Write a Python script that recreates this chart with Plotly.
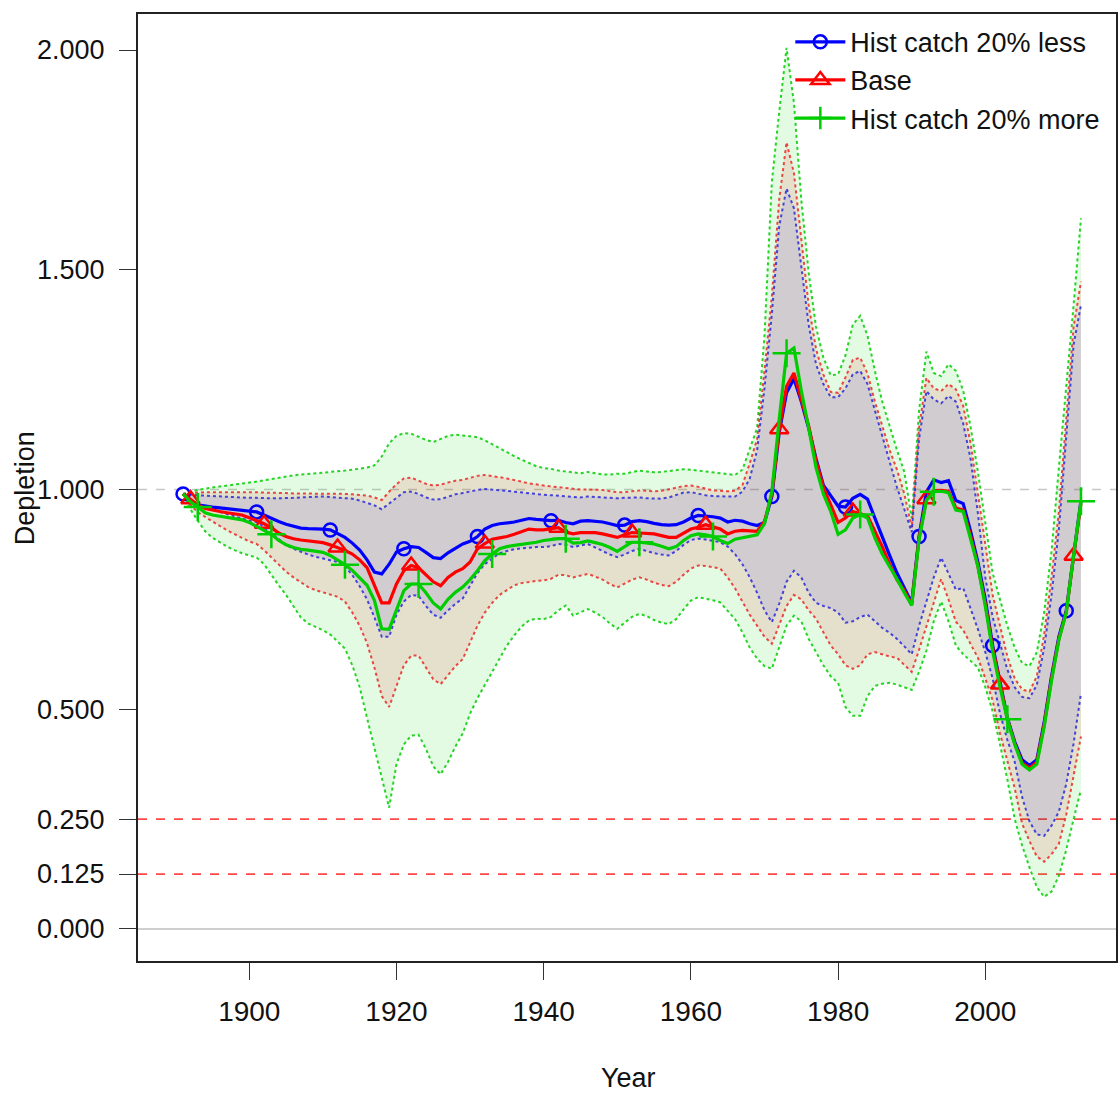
import plotly.graph_objects as go

# ---------------- data ----------------
years = list(range(1891, 2014))

less_mid = [
    0.990, 0.975, 0.965, 0.962, 0.960, 0.958, 0.956, 0.955, 0.953, 0.951,
    0.949, 0.942, 0.934, 0.927, 0.921, 0.916, 0.912, 0.911, 0.911, 0.910,
    0.908, 0.900, 0.891, 0.878, 0.862, 0.840, 0.812, 0.808, 0.830, 0.858,
    0.865, 0.870, 0.868, 0.857, 0.845, 0.843, 0.856, 0.866, 0.876, 0.882,
    0.893, 0.910, 0.918, 0.922, 0.924, 0.926, 0.930, 0.934, 0.932, 0.930,
    0.929, 0.930, 0.925, 0.922, 0.928, 0.929, 0.928, 0.926, 0.922, 0.918,
    0.919, 0.927, 0.929, 0.927, 0.923, 0.920, 0.919, 0.920, 0.926, 0.935,
    0.941, 0.940, 0.938, 0.935, 0.926, 0.930, 0.928, 0.922, 0.918, 0.925,
    0.984, 1.130, 1.220, 1.252, 1.200, 1.140, 1.070, 1.010, 0.985, 0.962,
    0.960, 0.980, 0.989, 0.978, 0.935, 0.890, 0.850, 0.810, 0.775, 0.742,
    0.893, 0.995, 1.022, 1.016, 1.020, 0.975, 0.968, 0.905, 0.834, 0.750,
    0.645, 0.560, 0.480, 0.426, 0.385, 0.372, 0.385, 0.470, 0.575, 0.665,
    0.724, 0.850, 0.975]

base_mid = [
    0.990, 0.978, 0.965, 0.957, 0.953, 0.950, 0.947, 0.945, 0.942, 0.936,
    0.929, 0.922, 0.913, 0.901, 0.893, 0.888, 0.885, 0.883, 0.881, 0.879,
    0.874, 0.868, 0.861, 0.853, 0.840, 0.822, 0.780, 0.742, 0.742, 0.785,
    0.815, 0.827, 0.822, 0.805, 0.790, 0.781, 0.800, 0.812, 0.820, 0.835,
    0.865, 0.877, 0.887, 0.890, 0.893, 0.898, 0.904, 0.910, 0.908, 0.908,
    0.911, 0.913, 0.903, 0.899, 0.902, 0.902, 0.902, 0.899, 0.895, 0.891,
    0.897, 0.902, 0.901, 0.900, 0.899, 0.895, 0.891, 0.891, 0.900, 0.910,
    0.914, 0.920, 0.915, 0.910, 0.899, 0.905, 0.907, 0.906, 0.905, 0.927,
    0.990, 1.137, 1.235, 1.265, 1.205, 1.145, 1.065, 1.005, 0.965, 0.925,
    0.935, 0.950, 0.945, 0.940, 0.905, 0.870, 0.830, 0.795, 0.770, 0.738,
    0.890, 0.978, 0.997, 0.998, 0.996, 0.958, 0.953, 0.895, 0.825, 0.740,
    0.640, 0.556, 0.478, 0.422, 0.378, 0.366, 0.380, 0.465, 0.570, 0.660,
    0.720, 0.849, 0.968]

more_mid = [
    0.990, 0.972, 0.960, 0.947, 0.942, 0.939, 0.936, 0.934, 0.931, 0.925,
    0.916, 0.906, 0.898, 0.884, 0.874, 0.868, 0.864, 0.862, 0.860, 0.857,
    0.850, 0.840, 0.829, 0.816, 0.800, 0.782, 0.748, 0.683, 0.682, 0.725,
    0.770, 0.785, 0.785, 0.765, 0.742, 0.728, 0.750, 0.766, 0.778, 0.795,
    0.815, 0.838, 0.853, 0.865, 0.870, 0.873, 0.875, 0.877, 0.880, 0.884,
    0.886, 0.888, 0.888, 0.878, 0.879, 0.883, 0.879, 0.875, 0.868, 0.859,
    0.870, 0.880, 0.880, 0.878, 0.876, 0.871, 0.865, 0.870, 0.884, 0.895,
    0.899, 0.897, 0.893, 0.884, 0.877, 0.887, 0.890, 0.893, 0.897, 0.922,
    0.995, 1.160, 1.310, 1.322, 1.225, 1.140, 1.050, 0.990, 0.950, 0.898,
    0.908, 0.935, 0.943, 0.935, 0.890, 0.853, 0.825, 0.796, 0.765, 0.736,
    0.885, 0.975, 0.995, 0.996, 0.993, 0.953, 0.950, 0.890, 0.825, 0.735,
    0.632, 0.550, 0.477, 0.420, 0.375, 0.362, 0.375, 0.460, 0.565, 0.658,
    0.720, 0.850, 0.973]

less_hi = [
    0.990, 0.988, 0.987, 0.986, 0.985, 0.984, 0.983, 0.982, 0.982, 0.981,
    0.981, 0.980, 0.980, 0.980, 0.980, 0.981, 0.982, 0.983, 0.984, 0.984,
    0.983, 0.982, 0.981, 0.979, 0.975, 0.970, 0.964, 0.955, 0.968, 0.983,
    0.994, 0.995, 0.990, 0.982, 0.977, 0.978, 0.984, 0.989, 0.992, 0.996,
    0.999, 1.001, 1.000, 0.998, 0.997, 0.995, 0.993, 0.991, 0.990, 0.988,
    0.987, 0.986, 0.985, 0.983, 0.982, 0.984, 0.983, 0.982, 0.980, 0.980,
    0.981, 0.982, 0.982, 0.980, 0.979, 0.979, 0.982, 0.988, 0.993, 0.994,
    0.990, 0.987, 0.985, 0.984, 0.984, 0.984, 0.995, 1.025, 1.090, 1.230,
    1.400, 1.600, 1.685, 1.640, 1.510, 1.375, 1.285, 1.240, 1.210, 1.210,
    1.230, 1.262, 1.270, 1.240, 1.180, 1.120, 1.060, 1.005, 0.955, 0.903,
    1.115, 1.224, 1.205, 1.196, 1.213, 1.200, 1.150, 1.070, 0.945, 0.800,
    0.710, 0.650, 0.590, 0.550, 0.528, 0.525, 0.555, 0.640, 0.760, 0.910,
    1.130, 1.330, 1.420]

less_lo = [
    0.990, 0.973, 0.965, 0.959, 0.954, 0.949, 0.944, 0.939, 0.934, 0.929,
    0.926, 0.915, 0.900, 0.886, 0.874, 0.865, 0.858, 0.852, 0.847, 0.843,
    0.838, 0.835, 0.825, 0.805, 0.780, 0.750, 0.709, 0.665, 0.665, 0.715,
    0.745, 0.760, 0.758, 0.735, 0.715, 0.708, 0.725, 0.740, 0.752, 0.780,
    0.810, 0.830, 0.843, 0.855, 0.860, 0.864, 0.866, 0.868, 0.869, 0.869,
    0.871, 0.876, 0.874, 0.869, 0.872, 0.876, 0.868, 0.860, 0.852, 0.846,
    0.852, 0.860, 0.865, 0.860, 0.855, 0.852, 0.850, 0.860, 0.874, 0.885,
    0.888, 0.886, 0.883, 0.880, 0.870, 0.853, 0.830, 0.800, 0.765, 0.725,
    0.698, 0.740, 0.790, 0.815, 0.800, 0.765, 0.742, 0.735, 0.730, 0.720,
    0.697, 0.700, 0.710, 0.715, 0.700, 0.685, 0.674, 0.660, 0.643, 0.625,
    0.690, 0.747, 0.800, 0.845, 0.810, 0.772, 0.776, 0.730, 0.682, 0.630,
    0.570, 0.490, 0.430, 0.380, 0.300, 0.245, 0.215, 0.212, 0.235, 0.267,
    0.330, 0.422, 0.536]

base_hi = [
    0.990, 0.992, 0.993, 0.994, 0.994, 0.995, 0.995, 0.995, 0.995, 0.995,
    0.994, 0.993, 0.993, 0.992, 0.992, 0.991, 0.991, 0.990, 0.990, 0.990,
    0.990, 0.990, 0.990, 0.989, 0.988, 0.986, 0.982, 0.976, 0.995, 1.012,
    1.025, 1.027, 1.020, 1.013, 1.009, 1.011, 1.016, 1.020, 1.022, 1.027,
    1.031, 1.033, 1.031, 1.028, 1.025, 1.022, 1.018, 1.014, 1.011, 1.009,
    1.007, 1.005, 1.003, 1.001, 1.000, 1.000, 1.000, 0.999, 0.996, 0.994,
    0.994, 0.996, 0.998, 0.997, 0.996, 0.997, 1.000, 1.004, 1.008, 1.009,
    1.006, 1.002, 0.998, 0.997, 0.996, 0.997, 1.010, 1.060, 1.115, 1.270,
    1.440, 1.660, 1.790, 1.720, 1.570, 1.420, 1.320, 1.262, 1.222, 1.220,
    1.255, 1.295, 1.300, 1.264, 1.200, 1.145, 1.090, 1.045, 0.990, 0.913,
    1.140, 1.254, 1.230, 1.224, 1.240, 1.228, 1.190, 1.105, 0.990, 0.870,
    0.760, 0.690, 0.620, 0.570, 0.545, 0.540, 0.575, 0.670, 0.800, 0.950,
    1.160, 1.370, 1.473]

base_lo = [
    0.990, 0.965, 0.948, 0.937, 0.927, 0.917, 0.907, 0.898, 0.890, 0.882,
    0.876, 0.862, 0.845, 0.828, 0.813, 0.800, 0.788, 0.778, 0.771, 0.766,
    0.760, 0.756, 0.745, 0.720, 0.690, 0.650, 0.595, 0.530, 0.505, 0.555,
    0.600, 0.622, 0.622, 0.595, 0.568, 0.557, 0.578, 0.598, 0.614, 0.650,
    0.690, 0.720, 0.742, 0.760, 0.772, 0.782, 0.787, 0.790, 0.792, 0.793,
    0.797, 0.806, 0.805, 0.800, 0.804, 0.808, 0.802, 0.795, 0.785, 0.777,
    0.786, 0.795, 0.800, 0.795, 0.788, 0.783, 0.780, 0.790, 0.806, 0.820,
    0.827, 0.826, 0.823, 0.820, 0.800, 0.775, 0.745, 0.715, 0.690, 0.665,
    0.649, 0.690, 0.735, 0.760, 0.750, 0.725, 0.706, 0.675, 0.645, 0.625,
    0.600, 0.592, 0.600, 0.625, 0.630, 0.625, 0.620, 0.617, 0.600, 0.585,
    0.635, 0.690, 0.745, 0.796, 0.750, 0.699, 0.680, 0.650, 0.617, 0.570,
    0.520, 0.445, 0.380, 0.320, 0.240, 0.200, 0.165, 0.153, 0.170, 0.194,
    0.260, 0.348, 0.438]

more_hi = [
    0.990, 0.995, 0.999, 1.002, 1.005, 1.007, 1.009, 1.011, 1.013, 1.016,
    1.018, 1.021, 1.024, 1.027, 1.030, 1.032, 1.034, 1.035, 1.036, 1.038,
    1.040, 1.041, 1.043, 1.045, 1.047, 1.050, 1.055, 1.075, 1.105, 1.122,
    1.128, 1.127, 1.120, 1.113, 1.108, 1.115, 1.122, 1.125, 1.123, 1.121,
    1.119, 1.112, 1.103, 1.093, 1.084, 1.076, 1.068, 1.060, 1.053, 1.049,
    1.047, 1.043, 1.041, 1.039, 1.037, 1.040, 1.037, 1.034, 1.034, 1.036,
    1.036, 1.040, 1.043, 1.041, 1.039, 1.040, 1.042, 1.045, 1.046, 1.045,
    1.043, 1.040, 1.038, 1.037, 1.034, 1.033, 1.045, 1.095, 1.140, 1.350,
    1.700, 1.860, 2.005, 1.880, 1.660, 1.494, 1.370, 1.300, 1.260, 1.262,
    1.305, 1.375, 1.395, 1.350, 1.270, 1.200, 1.143, 1.090, 1.040, 0.934,
    1.180, 1.314, 1.265, 1.258, 1.285, 1.270, 1.225, 1.143, 1.040, 0.930,
    0.810, 0.750, 0.690, 0.640, 0.605, 0.598, 0.630, 0.720, 0.860, 1.050,
    1.230, 1.420, 1.617]

more_lo = [
    0.990, 0.955, 0.929, 0.905, 0.890, 0.879, 0.870, 0.862, 0.855, 0.850,
    0.845, 0.830, 0.805, 0.782, 0.760, 0.735, 0.709, 0.695, 0.687, 0.680,
    0.670, 0.655, 0.638, 0.600, 0.550, 0.480, 0.413, 0.340, 0.276, 0.375,
    0.420, 0.440, 0.442, 0.410, 0.370, 0.352, 0.380, 0.415, 0.445, 0.490,
    0.525, 0.555, 0.585, 0.615, 0.645, 0.668, 0.688, 0.702, 0.706, 0.705,
    0.710, 0.725, 0.736, 0.713, 0.720, 0.728, 0.720, 0.710, 0.695, 0.683,
    0.697, 0.710, 0.717, 0.712, 0.703, 0.697, 0.694, 0.705, 0.727, 0.747,
    0.755, 0.752, 0.748, 0.743, 0.725, 0.705, 0.675, 0.640, 0.615, 0.598,
    0.592, 0.640, 0.690, 0.713, 0.700, 0.660, 0.630, 0.600, 0.575, 0.560,
    0.505, 0.485, 0.485, 0.530, 0.553, 0.558, 0.560, 0.556, 0.550, 0.544,
    0.585, 0.633, 0.700, 0.745, 0.700, 0.645, 0.625, 0.610, 0.595, 0.550,
    0.495, 0.420, 0.340, 0.250, 0.190, 0.140, 0.095, 0.073, 0.085, 0.121,
    0.180, 0.250, 0.317]

y_ticks = [0.0, 0.125, 0.25, 0.5, 1.0, 1.5, 2.0]
y_tick_labels = ["0.000", "0.125", "0.250", "0.500", "1.000", "1.500", "2.000"]
x_ticks = [1900, 1920, 1940, 1960, 1980, 2000]
series_names = ["Hist catch 20% less", "Base", "Hist catch 20% more"]

# ---------------- figure ----------------
BLUE, RED, GREEN = "#0000ff", "#ff0000", "#00cd00"
fig = go.Figure()

bands = [
    (more_lo, more_hi, "rgba(0,205,0,0.11)", "rgba(0,205,0,0.85)"),
    (base_lo, base_hi, "rgba(255,0,0,0.10)", "rgba(235,40,40,0.85)"),
    (less_lo, less_hi, "rgba(0,0,255,0.085)", "rgba(40,40,220,0.85)"),
]
for lo, hi, fillcol, linecol in bands:
    fig.add_trace(go.Scatter(x=years, y=lo, mode="lines",
                             line=dict(color=linecol, width=2, dash="dot"),
                             showlegend=False, hoverinfo="skip"))
    fig.add_trace(go.Scatter(x=years, y=hi, mode="lines", fill="tonexty",
                             fillcolor=fillcol,
                             line=dict(color=linecol, width=2, dash="dot"),
                             showlegend=False, hoverinfo="skip"))

mains = [
    (less_mid, BLUE, "circle-open", 13, 0),
    (base_mid, RED, "triangle-up-open", 16, 1),
    (more_mid, GREEN, "cross-thin-open", 20, 2),
]
for (vals, col, sym, size, off), name in zip(mains, series_names):
    fig.add_trace(go.Scatter(x=years, y=vals, mode="lines",
                             line=dict(color=col, width=3.2),
                             showlegend=False))
    fig.add_trace(go.Scatter(x=years[off::10], y=vals[off::10], mode="markers",
                             marker=dict(symbol=sym, size=size, color=col,
                                         line=dict(color=col, width=2.5)),
                             showlegend=False))
    fig.add_trace(go.Scatter(x=[None], y=[None], mode="lines+markers", name=name,
                             line=dict(color=col, width=3.2),
                             marker=dict(symbol=sym, size=size, color=col,
                                         line=dict(color=col, width=2.5))))

# reference lines
fig.add_hline(y=1.0, line=dict(color="#c8c8c8", width=1.5, dash="dash"), layer="below")
fig.add_hline(y=0.25, line=dict(color="rgba(255,40,40,0.85)", width=1.8, dash="dash"), layer="below")
fig.add_hline(y=0.125, line=dict(color="rgba(255,40,40,0.85)", width=1.8, dash="dash"), layer="below")
fig.add_hline(y=0.0, line=dict(color="#cfcfcf", width=2), layer="below")

FONT = "Liberation Sans, Arial, sans-serif"
NARROW = "Liberation Sans Narrow, Arial Narrow, Liberation Sans, sans-serif"

fig.update_layout(
    width=1120, height=1093,
    margin=dict(l=138, r=2, t=14, b=132),
    paper_bgcolor="white", plot_bgcolor="white",
    showlegend=True,
    legend=dict(x=0.667, y=0.996, xanchor="left", yanchor="top", traceorder="normal",
                bgcolor="rgba(0,0,0,0)", font=dict(family=FONT, size=27, color="#111"),
                itemwidth=50, tracegroupgap=0),
    xaxis=dict(range=[1884.88, 2017.76], tickvals=x_ticks, ticks="outside",
               ticklen=17, tickwidth=1.2, tickcolor="#333",
               showgrid=False, zeroline=False, showline=True, mirror=True,
               linecolor="#222", linewidth=2,
               tickfont=dict(family=NARROW, size=28, color="#111"),
               ticklabelstandoff=7),
    yaxis=dict(range=[-0.0729, 2.082], tickvals=y_ticks, ticktext=y_tick_labels,
               ticks="outside", ticklen=17, tickwidth=1.2, tickcolor="#333",
               showgrid=False, zeroline=False, showline=True, mirror=True,
               linecolor="#222", linewidth=2,
               tickfont=dict(family=FONT, size=27, color="#111"),
               ticklabelstandoff=9),
    annotations=[
        dict(text="Depletion", xref="paper", yref="paper", x=-0.1153, y=0.4995,
             textangle=-90, showarrow=False, xanchor="center", yanchor="middle",
             font=dict(family=NARROW, size=27, color="#111")),
        dict(text="Year", xref="paper", yref="paper", x=0.502, y=-0.1235,
             showarrow=False, xanchor="center", yanchor="middle",
             font=dict(family=NARROW, size=27, color="#111")),
    ],
)

# remove the default page margin / scrollbars so the figure fills the window exactly
fig.write_html(
    "out.html",
    config={"displayModeBar": False},
    post_script="document.body.style.margin='0';document.body.style.overflow='hidden';"
                "document.documentElement.style.overflow='hidden';",
)
